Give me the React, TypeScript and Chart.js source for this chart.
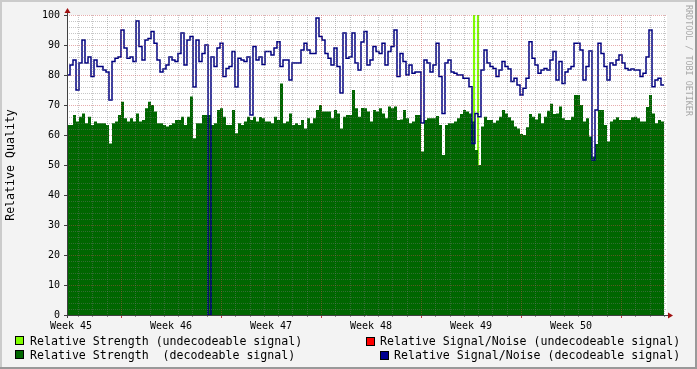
import { useEffect, useRef } from 'react';
import { Chart, registerables } from 'chart.js';
Chart.register(...registerables);

const weekLabels = ['Week 45', 'Week 46', 'Week 47', 'Week 48', 'Week 49', 'Week 50'];
const yTicks = [0, 10, 20, 30, 40, 50, 60, 70, 80, 90, 100];
const TOTAL_HOURS = 1008;
const LABEL_OFFSET_H = 6.7;
const MAJOR_GRID_START_H = 90.7;

const snrDecodeable = [
  69.5, 80, 83.3, 85, 75, 84, 91.7, 84, 86, 79.5, 85, 82.8, 82.8, 81.7, 81, 71.7, 84.5, 85.6, 86, 95,
  89, 85.6, 86, 84.5, 98, 89.5, 85, 91.7, 92.2, 94.5, 90.6, 85, 81, 82, 83.3, 86, 85, 84.5, 87.2, 94,
  83.3, 91.7, 92.8, 76, 91.7, 84.5, 87.2, 90, 0, 86, 82.8, 89, 90.6, 79.5, 82.2, 82.8, 87.8, 76, 85.6, 85,
  84.5, 86, 66.7, 89.5, 85, 86, 83.5, 87.8, 87.8, 86.7, 89, 91.1, 82.8, 85, 85, 78.3, 84, 84, 84, 88.3,
  90.6, 88.3, 87.2, 87.2, 99, 92.8, 91.7, 87.2, 85.6, 83.3, 89, 82.8, 74, 94, 85.6, 86, 94, 84, 81.7, 91,
  94.5, 83.3, 85, 89.5, 87.8, 87.2, 90.6, 83.3, 87.8, 89.5, 95, 79.5, 87.2, 84.5, 80, 83.3, 80.6, 81, 81, 64,
  85, 84, 81, 83.3, 90.6, 79.5, 67.2, 84, 85, 81, 80.6, 80, 80, 78.9, 78.9, 76.1, 57.2, 67.2, 66.1, 81.7,
  88.3, 84, 82.8, 82.2, 79.5, 81.7, 84.5, 82.8, 82, 77.8, 78.9, 76.7, 73.3, 75.6, 78.9, 91.1, 85.6, 83.3, 80.6, 81.7,
  82.2, 81.7, 85, 87.8, 78.3, 84.5, 77.2, 81, 82, 82.8, 90.6, 90.6, 88.3, 78.3, 82.8, 88, 51.7, 68.3, 90.6, 87.2,
  82.8, 78.3, 84, 83.3, 85, 86.7, 84, 82.2, 81.7, 82, 81.7, 81.7, 79.5, 80.6, 86, 95, 76.1, 78.3, 78.9, 76.7,
];

const strengthDecodeable = [
  57.2, 63.3, 63.3, 66.7, 64.5, 66.1, 67.2, 63.9, 66.1, 63.3, 64.5, 63.9, 63.9, 63.9, 63.3, 57.2, 63.9, 64.5, 66.7, 71.1,
  65.6, 64.5, 65.6, 64.5, 67.2, 64.5, 65, 68.9, 71.1, 70, 67.8, 63.9, 63.9, 63.3, 62.8, 63.3, 63.9, 65, 65, 66.1,
  63.3, 66.1, 72.8, 58.9, 63.9, 63.9, 66.7, 66.7, 66.7, 63.3, 63.9, 68.3, 68.9, 66.1, 63.3, 63.3, 68.3, 60.6, 63.9, 63.3,
  64.5, 66.1, 65, 66.1, 64.5, 66, 65.6, 64.5, 64.5, 63.9, 66.1, 65, 77.2, 63.9, 64.5, 67.2, 63.3, 63.9, 63.3, 65,
  62.2, 65.6, 63.9, 65.6, 68.3, 70, 67.8, 67.8, 67.8, 65.6, 68.3, 67.2, 62.2, 66.1, 66.7, 66.7, 75, 68.9, 66.1, 69,
  68.9, 67.8, 64.5, 68.3, 67.8, 68.9, 67.2, 65.6, 69.5, 68.9, 69.5, 65, 65.2, 68.3, 65.6, 63.9, 64.5, 66.7, 66.7, 54.5,
  65, 65.6, 65.6, 65.6, 66.3, 63.3, 53.3, 63.3, 63.9, 63.9, 64.5, 65.6, 67, 68.3, 67.8, 67.2, 64.5, 55, 50, 62.8,
  66.1, 65, 65, 64.1, 64.8, 66.1, 68.3, 67.2, 65.9, 64.8, 62.8, 62.2, 60.3, 60, 62.6, 67, 66.1, 65.2, 67.2, 63.9,
  66.1, 68.1, 70.4, 67, 67.2, 69.5, 65.6, 65, 65, 66.1, 73.3, 73.3, 70, 64.5, 65.6, 59.5, 52.8, 57, 68.3, 68.3,
  63.3, 57.8, 64.5, 65.2, 65.9, 65, 65, 65, 65, 65.9, 66.1, 65.6, 64.5, 64.5, 69.3, 73.3, 67.2, 63.9, 65, 64.5,
];

const strengthUndecodeableHours = [683.8, 690.5];
const strengthUndecodeableValues = [100, 100];
const snrUndecodeableValues: number[] = [];

const FONT = "'DejaVu Sans Mono', monospace";

export default function App() {
  const ref = useRef<HTMLCanvasElement | null>(null);

  useEffect(() => {
    document.body.style.margin = '0';
    const canvas = ref.current;
    if (!canvas) return;
    const step = TOTAL_HOURS / snrDecodeable.length;

    const bgPlugin = {
      id: 'bg',
      beforeDraw(chart: any) {
        const { ctx, width, height, chartArea } = chart;
        ctx.save();
        ctx.fillStyle = '#F3F3F3';
        ctx.fillRect(0, 0, width, height);
        ctx.fillStyle = '#CBCBCB';
        ctx.fillRect(0, 0, width, 2);
        ctx.fillRect(0, 0, 2, height);
        ctx.fillStyle = '#999999';
        ctx.fillRect(0, height - 2, width, 2);
        ctx.fillRect(width - 2, 0, 2, height);
        ctx.fillStyle = '#FFFFFF';
        ctx.fillRect(chartArea.left, chartArea.top, chartArea.right - chartArea.left, chartArea.bottom - chartArea.top);
        ctx.restore();
      },
    };

    const gridPlugin = {
      id: 'grid',
      afterDatasetsDraw(chart: any) {
        const { ctx, chartArea, scales } = chart;
        const xs = scales.x;
        const ys = scales.y;
        ctx.save();
        ctx.lineWidth = 1;
        ctx.setLineDash([1, 1]);
        for (let v = 2; v <= 100; v += 2) {
          const y = Math.round(ys.getPixelForValue(v)) + 0.5;
          ctx.strokeStyle = v % 10 === 0 ? 'rgba(200,70,70,0.45)' : 'rgba(120,120,120,0.42)';
          ctx.beginPath();
          ctx.moveTo(chartArea.left, y);
          ctx.lineTo(chartArea.right, y);
          ctx.stroke();
        }
        for (let h = MAJOR_GRID_START_H - 72; h < TOTAL_HOURS; h += 24) {
          const major = Math.abs(((h - MAJOR_GRID_START_H) % 168 + 168) % 168) < 0.01;
          const x = Math.round(xs.getPixelForValue(h)) + 0.5;
          ctx.strokeStyle = major ? 'rgba(200,70,70,0.45)' : 'rgba(120,120,120,0.42)';
          ctx.beginPath();
          ctx.moveTo(x, chartArea.top);
          ctx.lineTo(x, chartArea.bottom);
          ctx.stroke();
        }
        ctx.setLineDash([]);
        for (let h = MAJOR_GRID_START_H - 72; h < TOTAL_HOURS; h += 24) {
          const major = Math.abs(((h - MAJOR_GRID_START_H) % 168 + 168) % 168) < 0.01;
          const x = Math.round(xs.getPixelForValue(h)) + 0.5;
          ctx.strokeStyle = major ? '#C04040' : '#909090';
          ctx.beginPath();
          ctx.moveTo(x, chartArea.bottom);
          ctx.lineTo(x, chartArea.bottom + (major ? 3 : 2));
          ctx.stroke();
        }
        ctx.strokeStyle = '#404040';
        for (const v of yTicks) {
          const y = Math.round(ys.getPixelForValue(v)) + 0.5;
          ctx.beginPath();
          ctx.moveTo(chartArea.left - 3, y);
          ctx.lineTo(chartArea.left, y);
          ctx.stroke();
        }
        const ax = Math.round(chartArea.left) + 0.5;
        const ay = Math.round(chartArea.bottom) + 0.5;
        ctx.strokeStyle = '#404040';
        ctx.beginPath();
        ctx.moveTo(ax, chartArea.bottom + 3);
        ctx.lineTo(ax, chartArea.top - 3);
        ctx.moveTo(chartArea.left - 3, ay);
        ctx.lineTo(chartArea.right + 2, ay);
        ctx.stroke();
        ctx.fillStyle = '#A01010';
        ctx.beginPath();
        ctx.moveTo(ax - 3, chartArea.top - 2);
        ctx.lineTo(ax + 3, chartArea.top - 2);
        ctx.lineTo(ax, chartArea.top - 7);
        ctx.closePath();
        ctx.fill();
        ctx.beginPath();
        ctx.moveTo(chartArea.right + 1, ay - 3);
        ctx.lineTo(chartArea.right + 1, ay + 3);
        ctx.lineTo(chartArea.right + 6, ay);
        ctx.closePath();
        ctx.fill();
        ctx.restore();
      },
    };

    const decorPlugin = {
      id: 'decor',
      afterDraw(chart: any) {
        const { ctx, chartArea } = chart;
        const ds = chart.data.datasets;
        ctx.save();
        ctx.fillStyle = '#000';
        ctx.font = `11.6px ${FONT}`;
        ctx.textAlign = 'center';
        ctx.textBaseline = 'middle';
        ctx.translate(11, (chartArea.top + chartArea.bottom) / 2);
        ctx.rotate(-Math.PI / 2);
        ctx.fillText('Relative Quality', 0, 0);
        ctx.restore();

        ctx.save();
        ctx.fillStyle = '#A8A8A8';
        ctx.font = `8.4px ${FONT}`;
        ctx.textAlign = 'left';
        ctx.textBaseline = 'middle';
        ctx.translate(688, 5);
        ctx.rotate(Math.PI / 2);
        ctx.fillText('RRDTOOL / TOBI OETIKER', 0, 0);
        ctx.restore();

        ctx.save();
        ctx.font = `11.6px ${FONT}`;
        ctx.textBaseline = 'alphabetic';
        ctx.textAlign = 'left';
        const items = [
          { d: ds[2], sx: 15, sy: 336, tx: 30, ty: 345 },
          { d: ds[1], sx: 15, sy: 350, tx: 30, ty: 359 },
          { d: ds[3], sx: 366, sy: 337, tx: 380, ty: 345 },
          { d: ds[0], sx: 380, sy: 351, tx: 394, ty: 359 },
        ];
        for (const it of items) {
          ctx.fillStyle = it.d.legendColor;
          ctx.fillRect(it.sx, it.sy, 9, 9);
          ctx.strokeStyle = '#000';
          ctx.lineWidth = 1;
          ctx.strokeRect(it.sx + 0.5, it.sy + 0.5, 8, 8);
          ctx.fillStyle = '#000';
          ctx.fillText(it.d.label, it.tx, it.ty);
        }
        ctx.restore();
      },
    };

    const chart = new Chart(canvas, {
      type: 'line',
      data: {
        datasets: [
          {
            label: 'Relative Signal/Noise (decodeable signal)',
            data: snrDecodeable.map((v, i) => ({ x: i * step, y: v })),
            borderColor: '#000080',
            legendColor: '#000090',
            borderWidth: 1.5,
            stepped: 'after',
            pointRadius: 0,
            fill: false,
            order: 0,
          } as any,
          {
            label: 'Relative Strength  (decodeable signal)',
            data: strengthDecodeable.map((v, i) => ({ x: i * step, y: v })),
            borderColor: 'rgba(0,0,0,0)',
            backgroundColor: '#006600',
            legendColor: '#006600',
            borderWidth: 0,
            stepped: 'after',
            pointRadius: 0,
            fill: 'origin',
            order: 1,
          } as any,
          {
            type: 'bar',
            label: 'Relative Strength (undecodeable signal)',
            data: strengthUndecodeableHours.map((h, i) => ({ x: h, y: strengthUndecodeableValues[i] })),
            backgroundColor: '#80FF00',
            legendColor: '#80FF00',
            barThickness: 1.5,
            order: 2,
          } as any,
          {
            label: 'Relative Signal/Noise (undecodeable signal)',
            data: snrUndecodeableValues.map((v, i) => ({ x: i * step, y: v })),
            borderColor: '#FF0000',
            legendColor: '#FF0000',
            borderWidth: 1,
            pointRadius: 0,
            order: 3,
          } as any,
        ],
      },
      options: {
        animation: false,
        responsive: false,
        devicePixelRatio: 1,
        layout: { padding: { left: 0, top: 15, right: 30, bottom: 0 } },
        plugins: { legend: { display: false }, tooltip: { enabled: false } },
        scales: {
          x: {
            type: 'linear',
            min: 0,
            max: TOTAL_HOURS,
            offset: false,
            grid: { display: false, drawTicks: false, offset: false },
            border: { display: false },
            afterBuildTicks: (s: any) => {
              s.ticks = weekLabels.map((_, i) => ({ value: i * 168 + LABEL_OFFSET_H }));
            },
            afterFit: (s: any) => {
              s.height = 54;
            },
            ticks: {
              autoSkip: false,
              maxRotation: 0,
              padding: 5,
              color: '#000',
              font: { family: FONT, size: 10 },
              callback: (_v: any, i: number) => weekLabels[i],
            },
          },
          y: {
            type: 'linear',
            min: 0,
            max: 100,
            grid: { display: false, drawTicks: false },
            border: { display: false },
            afterBuildTicks: (s: any) => {
              s.ticks = yTicks.map((v) => ({ value: v }));
            },
            afterFit: (s: any) => {
              s.width = 67;
            },
            ticks: {
              padding: 7,
              color: '#000',
              font: { family: FONT, size: 10 },
              callback: (v: any) => String(v),
            },
          },
        },
      },
      plugins: [bgPlugin, gridPlugin, decorPlugin],
    } as any);

    return () => chart.destroy();
  }, []);

  return (
    <div style={{ position: 'absolute', left: 0, top: 0, width: 697, height: 369 }}>
      <canvas ref={ref} width={697} height={369} style={{ display: 'block', width: 697, height: 369 }} />
    </div>
  );
}
